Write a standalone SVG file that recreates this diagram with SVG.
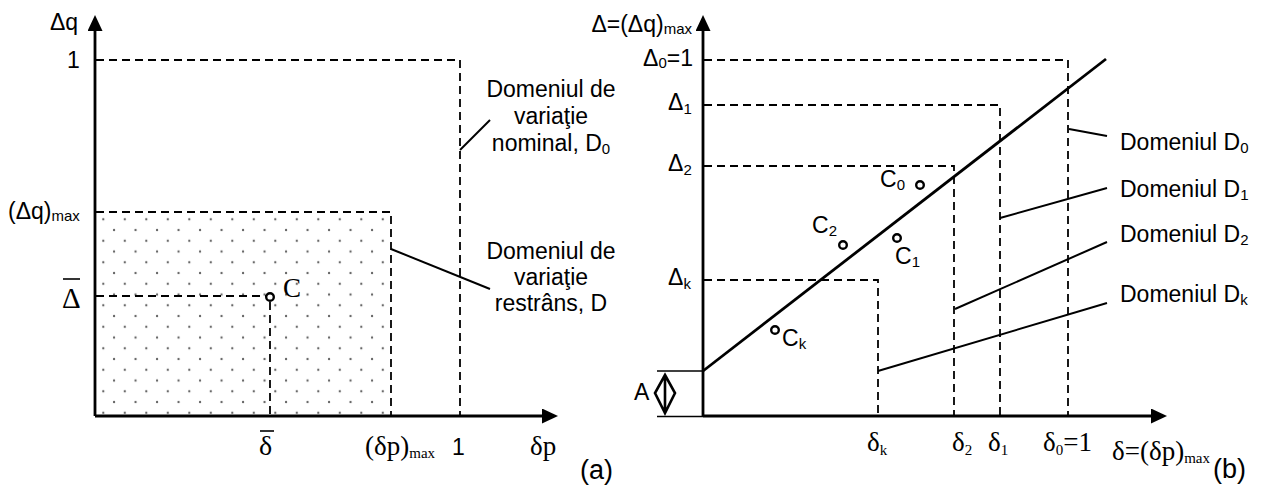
<svg xmlns="http://www.w3.org/2000/svg" width="1263" height="486" viewBox="0 0 1263 486">
<style>
.ax{stroke:#000;stroke-width:2.8;fill:none}
.dash{stroke:#000;stroke-width:1.8;fill:none;stroke-dasharray:8 5}
.thin{stroke:#000;stroke-width:1.6;fill:none}
.ptr{stroke:#000;stroke-width:2;fill:none}
.pt{stroke:#000;stroke-width:2.4;fill:#fff}
.s{font-family:"Liberation Sans",Arial,sans-serif;font-size:23px;fill:#000}
.lb{font-family:"Liberation Sans",Arial,sans-serif;font-size:23px;fill:#000}
.r{font-family:"Liberation Serif","Times New Roman",serif;font-size:27px;fill:#000}
.sub{font-size:15px}
</style>
<defs>
<marker id="arr" viewBox="0 0 16 15" markerWidth="16" markerHeight="15" refX="10" refY="7.5" orient="auto" markerUnits="userSpaceOnUse">
<path d="M0,0 L16,7.5 L0,15 z" fill="#000"/>
</marker>
<pattern id="dots" patternUnits="userSpaceOnUse" x="101.3" y="217.3" width="21.5" height="21.5">
<circle cx="2" cy="2" r="1.15" fill="#666"/>
<circle cx="12.75" cy="12.75" r="1.15" fill="#666"/>
</pattern>
</defs>

<!-- Panel (a) -->
<g id="region-D">
<rect x="95" y="212" width="296" height="204" fill="url(#dots)"/>
<path class="dash" d="M96,212 H391 V416"/>
</g>
<g id="region-D0">
<path class="dash" d="M96,60 H460 V416"/>
</g>
<g id="point-C">
<path class="dash" d="M96,296 H266"/>
<path class="dash" d="M270,302 V416"/>
<circle class="pt" cx="270" cy="297" r="3.8"/>
<text class="r" x="283" y="297">C</text>
</g>
<g id="axes-a">
<path class="ax" d="M95,416 V21" marker-end="url(#arr)"/>
<path class="ax" d="M95,416 H552" marker-end="url(#arr)"/>
<text class="s" x="50" y="30">Δq</text>
<text class="s" x="67" y="68">1</text>
<text class="s" x="8" y="219">(Δq)<tspan class="sub" dy="2">max</tspan></text>
<text class="r" x="62" y="308" style="font-size:29px">Δ</text>
<line class="thin" x1="63" y1="279" x2="80" y2="279"/>
<text class="r" x="259" y="455" style="font-size:28px">δ</text>
<line class="thin" x1="260" y1="431" x2="274" y2="431"/>
<text class="r" x="365" y="455">(δp)<tspan class="sub" dy="3">max</tspan></text>
<text class="s" x="452" y="455">1</text>
<text class="r" x="530" y="455">δp</text>
<text class="s" x="580" y="479" style="font-size:27px">(a)</text>
</g>
<g id="label-D0-a">
<text class="lb" x="551" y="97" text-anchor="middle">Domeniul de</text>
<text class="lb" x="551" y="124" text-anchor="middle">variaţie</text>
<text class="lb" x="551" y="151" text-anchor="middle">nominal, D<tspan class="sub" dy="3">0</tspan></text>
</g>
<g id="label-D-a">
<text class="lb" x="551" y="259" text-anchor="middle">Domeniul de</text>
<text class="lb" x="551" y="285" text-anchor="middle">variaţie</text>
<text class="lb" x="551" y="311" text-anchor="middle">restrâns, D</text>
</g>

<!-- Panel (b) -->
<g id="domain-D0">
<path class="dash" d="M704,60 H1068 V416"/>
</g>
<g id="domain-D1">
<path class="dash" d="M704,105 H1000 V416"/>
</g>
<g id="domain-D2">
<path class="dash" d="M704,166 H954 V416"/>
</g>
<g id="domain-Dk">
<path class="dash" d="M704,280 H878 V416"/>
</g>
<g id="boundary-line">
<line class="ax" x1="703" y1="371" x2="1106" y2="59"/>
</g>
<g id="offset-A">
<line class="thin" x1="657" y1="371" x2="703" y2="371"/>
<line class="thin" x1="657" y1="416.5" x2="703" y2="416.5"/>
<path d="M665,375 L675,393 L665,413 L655,393 Z M665,375 V413" stroke="#000" stroke-width="2.6" fill="none" stroke-linejoin="miter"/>
<text class="s" x="634" y="400">A</text>
</g>
<g id="axes-b">
<path class="ax" d="M703,416 V21" marker-end="url(#arr)"/>
<path class="ax" d="M703,416 H1161" marker-end="url(#arr)"/>
<text class="s" x="692" y="32" text-anchor="end">Δ=(Δq)<tspan class="sub" dy="2">max</tspan></text>
<text class="s" x="643" y="66">Δ<tspan class="sub" dy="2">0</tspan><tspan dy="-2">=1</tspan></text>
<text class="s" x="668" y="110">Δ<tspan class="sub" dy="4">1</tspan></text>
<text class="s" x="668" y="171">Δ<tspan class="sub" dy="4">2</tspan></text>
<text class="s" x="668" y="285">Δ<tspan class="sub" dy="4">k</tspan></text>
<text class="r" x="867" y="451">δ<tspan class="sub" dy="4">k</tspan></text>
<text class="r" x="952" y="451">δ<tspan class="sub" dy="4">2</tspan></text>
<text class="r" x="988" y="451">δ<tspan class="sub" dy="4">1</tspan></text>
<text class="r" x="1043" y="451">δ<tspan class="sub" dy="4">0</tspan><tspan dy="-4">=1</tspan></text>
<text class="r" x="1112" y="460">δ=(δp)<tspan class="sub" dy="3">max</tspan></text>
<text class="s" x="1213" y="478" style="font-size:27px">(b)</text>
</g>
<g id="point-C0">
<circle class="pt" cx="920" cy="185" r="3.8"/>
<text class="lb" x="880" y="187">C<tspan class="sub" dy="3">0</tspan></text>
</g>
<g id="point-C1">
<circle class="pt" cx="897" cy="238" r="3.8"/>
<text class="lb" x="895" y="264">C<tspan class="sub" dy="3">1</tspan></text>
</g>
<g id="point-C2">
<circle class="pt" cx="843" cy="245" r="3.8"/>
<text class="lb" x="812" y="233">C<tspan class="sub" dy="3">2</tspan></text>
</g>
<g id="point-Ck">
<circle class="pt" cx="775" cy="330" r="3.8"/>
<text class="lb" x="782" y="346">C<tspan class="sub" dy="3">k</tspan></text>
</g>
<g id="label-D0-b"><text class="lb" x="1120" y="150">Domeniul D<tspan class="sub" dy="3">0</tspan></text></g>
<g id="label-D1-b"><text class="lb" x="1120" y="197">Domeniul D<tspan class="sub" dy="3">1</tspan></text></g>
<g id="label-D2-b"><text class="lb" x="1120" y="242">Domeniul D<tspan class="sub" dy="3">2</tspan></text></g>
<g id="label-Dk-b"><text class="lb" x="1120" y="302">Domeniul D<tspan class="sub" dy="3">k</tspan></text></g>

<g id="connectors">
<line class="ptr" x1="460" y1="150" x2="490" y2="120"/>
<line class="ptr" x1="391" y1="249" x2="490" y2="289"/>
<line class="ptr" x1="1069" y1="129" x2="1107" y2="136"/>
<line class="ptr" x1="1000" y1="218" x2="1107" y2="188"/>
<line class="ptr" x1="955" y1="309" x2="1107" y2="242"/>
<line class="ptr" x1="878" y1="371" x2="1107" y2="303"/>
</g>
</svg>
